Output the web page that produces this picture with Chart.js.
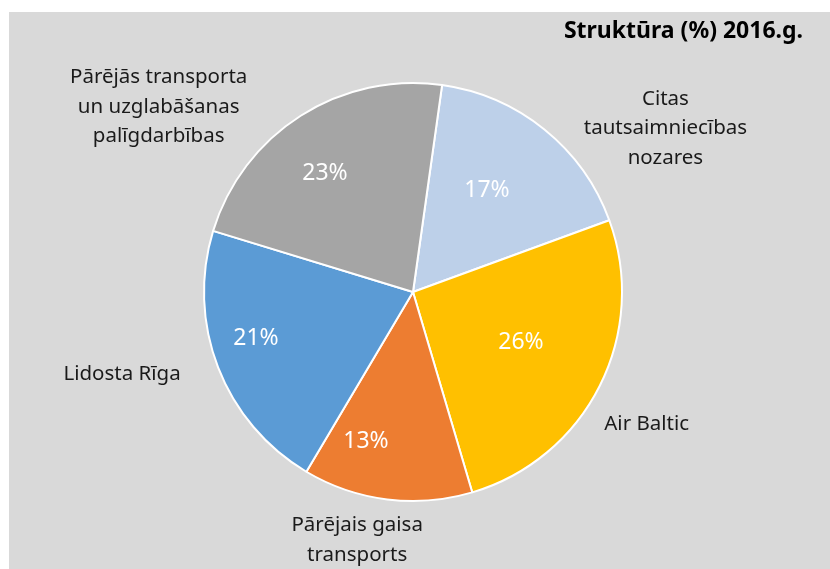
<!DOCTYPE html>
<html>
<head>
<meta charset="utf-8">
<script src="https://cdn.jsdelivr.net/npm/chart.js@4/dist/chart.umd.min.js"></script>
<style>
  html, body { margin: 0; padding: 0; background: #ffffff; }
  #wrap { width: 830px; height: 569px; }
</style>
</head>
<body>
<div id="wrap"><canvas id="pie"></canvas></div>
<script>
// structure of the sector, share in %
const categories = [
  ['Citas', 'tautsaimniecības', 'nozares'],
  ['Air Baltic'],
  ['Pārējais gaisa', 'transports'],
  ['Lidosta Rīga'],
  ['Pārējās transporta', 'un uzglabāšanas', 'palīgdarbības']
];
const shares = [17.2, 26, 13.1, 21.2, 22.5];
const shareLabels = ['17%', '26%', '13%', '21%', '23%'];
const colors = ['#bdd0e9', '#ffc000', '#ed7d31', '#5b9bd5', '#a5a5a5'];

// label placement: outside labels offset from the slice's outer mid point,
// inside labels offset from the pie centre
const outerOffsets = [[121, -1], [47, 38], [-30, 41], [-96, 7], [-142, -9]];
const innerOffsets = [[74, -102], [108, 50], [-47, 149], [-157, 46], [-88, -119]];

const FONT = '"Noto Sans", "Open Sans", sans-serif';

const bgPlugin = {
  id: 'bg',
  beforeDraw(chart) {
    const ctx = chart.ctx;
    ctx.save();
    ctx.fillStyle = '#d9d9d9';
    ctx.fillRect(9, 12, chart.width - 9, chart.height - 12);
    ctx.restore();
  }
};

const labelPlugin = {
  id: 'sliceLabels',
  afterDatasetsDraw(chart) {
    const ctx = chart.ctx;
    const arcs = chart.getDatasetMeta(0).data;
    ctx.save();
    ctx.textAlign = 'center';
    ctx.textBaseline = 'middle';
    arcs.forEach((arc, i) => {
      const p = arc.getProps(['x', 'y', 'startAngle', 'endAngle', 'outerRadius'], true);
      const mid = (p.startAngle + p.endAngle) / 2;
      // percentage inside
      ctx.fillStyle = '#ffffff';
      ctx.font = '23px ' + FONT;
      ctx.fillText(shareLabels[i], p.x + innerOffsets[i][0], p.y + innerOffsets[i][1]);
      // category name outside
      const ex = p.x + Math.cos(mid) * p.outerRadius + outerOffsets[i][0];
      const ey = p.y + Math.sin(mid) * p.outerRadius + outerOffsets[i][1];
      const lines = categories[i];
      const lh = 29.5;
      ctx.fillStyle = '#1a1a1a';
      ctx.font = '20.5px ' + FONT;
      lines.forEach((t, k) => {
        ctx.fillText(t, ex, ey + (k - (lines.length - 1) / 2) * lh);
      });
    });
    // title
    ctx.fillStyle = '#000000';
    ctx.font = 'bold 23px ' + FONT;
    ctx.textAlign = 'right';
    ctx.fillText('Struktūra (%) 2016.g.', 803, 31);
    ctx.restore();
  }
};

new Chart(document.getElementById('pie'), {
  type: 'pie',
  data: {
    labels: categories.map(c => c.join(' ')),
    datasets: [{
      data: shares,
      backgroundColor: colors,
      borderColor: '#ffffff',
      borderWidth: 2
    }]
  },
  options: {
    responsive: true,
    maintainAspectRatio: false,
    animation: false,
    rotation: 8,
    layout: { padding: { top: 82, bottom: 67, left: 0, right: 4 } },
    plugins: {
      legend: { display: false },
      tooltip: { enabled: false },
      title: { display: false }
    }
  },
  plugins: [bgPlugin, labelPlugin]
});
</script>
</body>
</html>
